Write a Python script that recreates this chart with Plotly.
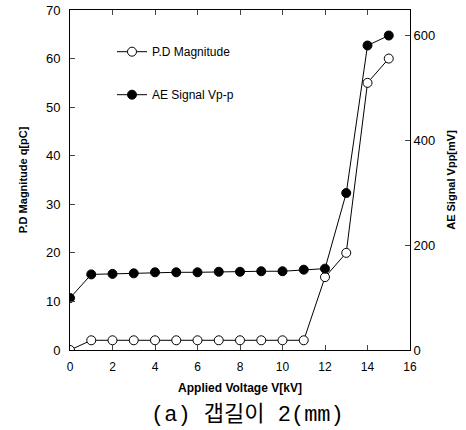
import plotly.graph_objects as go

voltage = [0, 1, 2, 3, 4, 5, 6, 7, 8, 9, 10, 11, 12, 13, 14, 15]
pd_magnitude = [0, 2, 2, 2, 2, 2, 2, 2, 2, 2, 2, 2, 15, 20, 55, 60]
ae_signal = [99, 144, 145, 146, 148, 148, 148, 149, 149, 150, 150, 153, 155, 299, 580, 599]

x_ticks = [0, 2, 4, 6, 8, 10, 12, 14, 16]
left_ticks = [0, 10, 20, 30, 40, 50, 60, 70]
right_ticks = [0, 200, 400, 600]

FONT = "Liberation Sans, Arial, sans-serif"

fig = go.Figure()
fig.add_trace(go.Scatter(
    x=voltage, y=pd_magnitude, name="P.D Magnitude", mode="lines+markers",
    line=dict(color="black", width=1),
    marker=dict(symbol="circle", size=9, color="white", line=dict(color="black", width=1)),
    legendgroup="a", yaxis="y"))
fig.add_trace(go.Scatter(
    x=voltage, y=ae_signal, name="AE Signal Vp-p", mode="lines+markers",
    line=dict(color="black", width=1),
    marker=dict(symbol="circle", size=9, color="black", line=dict(color="black", width=1)),
    legendgroup="b", yaxis="y2"))

fig.update_layout(
    width=466, height=430,
    margin=dict(l=70, r=56, t=10, b=80),
    paper_bgcolor="white", plot_bgcolor="white",
    font=dict(family=FONT, color="black", size=12),
    showlegend=True,
    legend=dict(x=0.1235, y=0.92, xanchor="left", yanchor="top",
                bgcolor="rgba(0,0,0,0)", font=dict(size=12, family=FONT),
                tracegroupgap=24, itemwidth=30),
    xaxis=dict(range=[0, 16], tickvals=x_ticks, ticks="inside", ticklen=5,
               showline=True, linecolor="black", linewidth=1, mirror="ticks",
               showgrid=False, zeroline=False, tickfont=dict(size=12),
               ticklabelstandoff=6, automargin=False,
               title=dict(text="<b>Applied Voltage V[kV]</b>", font=dict(size=12), standoff=10)),
    yaxis=dict(range=[0, 70], tickvals=left_ticks, ticks="inside", ticklen=5,
               showline=True, linecolor="black", linewidth=1, automargin=False,
               showgrid=False, zeroline=False, tickfont=dict(size=13), ticklabelstandoff=6,
               title=dict(text="<b>P.D Magnitude q[pC]</b>", font=dict(size=11), standoff=16)),
    yaxis2=dict(range=[0, 600 * 340 / 315], tickvals=right_ticks, ticks="inside", ticklen=5,
                overlaying="y", side="right", anchor="x", automargin=False,
                showline=True, linecolor="black", linewidth=1,
                showgrid=False, zeroline=False, tickfont=dict(size=13),
                title=dict(text="<b>AE Signal Vpp[mV]</b>", font=dict(size=11), standoff=12)),
    annotations=[
        dict(text="(a) 갭길이 2(mm)", xref="paper", yref="paper",
             x=0.523, y=-0.19, xanchor="center", yanchor="middle", showarrow=False,
             font=dict(size=22, family="Liberation Mono, Noto Sans CJK KR, monospace")),
    ],
)

fig.write_html("out.html", config={"displayModeBar": False},
               post_script="document.body.style.margin='0px';")
